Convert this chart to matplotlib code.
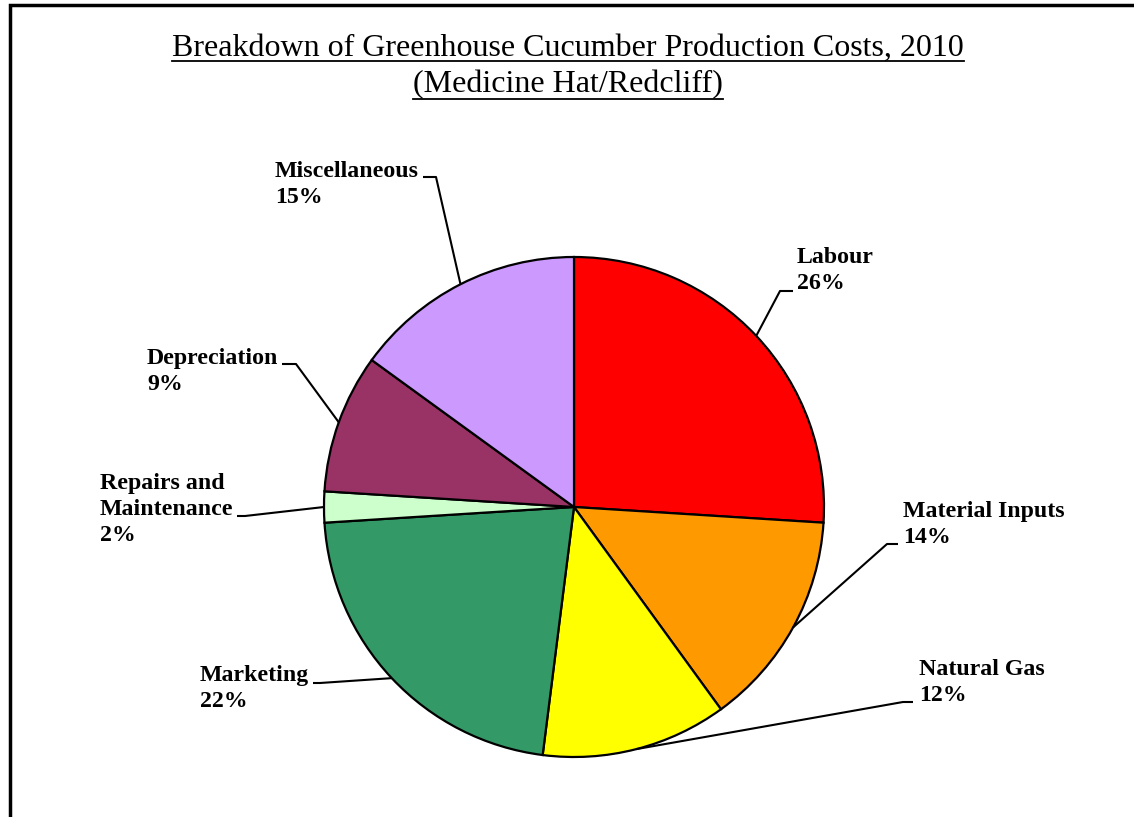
import matplotlib
matplotlib.use("Agg")
import matplotlib.pyplot as plt
import numpy as np

categories = ["Labour", "Material Inputs", "Natural Gas", "Marketing",
              "Repairs and\nMaintenance", "Depreciation", "Miscellaneous"]
shares = [26, 14, 12, 22, 2, 9, 15]
colors = ["#FF0000", "#FF9900", "#FFFF00", "#339966", "#CCFFCC", "#993366", "#CC99FF"]

title_lines = ["Breakdown of Greenhouse Cucumber Production Costs, 2010",
               "(Medicine Hat/Redcliff)"]

# label placement in image pixels: text left x, block centre y, elbow start, elbow end
label_pos = [
    (797, 270.5, (780, 291), (793, 291)),
    (903, 524.5, (887, 544), (898, 544)),
    (919, 682.5, (903, 702), (913, 702)),
    (200, 688.5, (320, 683), (313, 683)),
    (100, 509.5, (245, 516), (237, 516)),
    (147, 371.5, (296, 364), (282, 364)),
    (275, 184.5, (436, 177), (423, 177)),
]

W, H = 1134, 817
CX, CY, R = 574, 507, 250


def px(x, y):
    return (x - CX) / R, (CY - y) / R


fig = plt.figure(figsize=(W / 100, H / 100), dpi=100)
ax = fig.add_axes([0, 0, 1, 1])

wedges, _ = ax.pie(shares, colors=colors, startangle=90, counterclock=False,
                   radius=1, center=(0, 0), frame=True,
                   wedgeprops=dict(edgecolor="black", linewidth=1.6))
ax.set_xlim(-CX / R, (W - CX) / R)
ax.set_ylim(-(H - CY) / R, CY / R)
ax.axis("off")

total = sum(shares)
start = 90.0
for name, val, (tx, ty, e1, e2) in zip(categories, shares, label_pos):
    mid = np.deg2rad(start - val / total * 180)
    start -= val / total * 360
    ex, ey = np.cos(mid), np.sin(mid)
    a = px(*e1)
    b = px(*e2)
    ax.plot([ex, a[0], b[0]], [ey, a[1], b[1]], color="black", lw=1.5,
            solid_capstyle="butt")
    x, y = px(tx, ty)
    ax.text(x, y, f"{name}\n{val}%", ha="left", va="center",
            family="Liberation Serif", fontweight="bold", fontsize=17.2,
            linespacing=1.3)

# title with underline
renderer = fig.canvas.get_renderer()
for line, ypx in zip(title_lines, [48, 85]):
    x, y = px(568, ypx)
    t = ax.text(x, y, line, ha="center", va="center",
                family="Liberation Serif", fontsize=23)
    bb = t.get_window_extent(renderer)
    inv = ax.transData.inverted()
    (x0, y0), (x1, _) = inv.transform([(bb.x0, bb.y0), (bb.x1, bb.y0)])
    ax.plot([x0, x1], [y0 + 0.004, y0 + 0.004], color="black", lw=1.3)

# frame
ax.plot(*zip(px(10, 817), px(10, 5), px(1134, 5)), color="black", lw=2.5,
        solid_joinstyle="miter")

fig.savefig("out.png", dpi=100)
